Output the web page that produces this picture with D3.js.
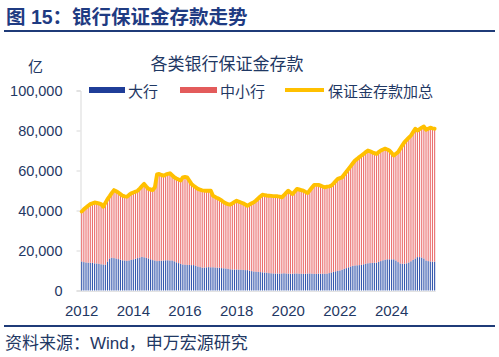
<!DOCTYPE html>
<html>
<head>
<meta charset="utf-8">
<script src="https://cdn.jsdelivr.net/npm/d3@7/dist/d3.min.js"></script>
<style>
  html, body { margin: 0; padding: 0; background: #fff; }
  svg { display: block; }
  text { font-family: "Liberation Sans", Arial, "Noto Sans CJK SC", sans-serif; }
</style>
</head>
<body>
<svg id="chart" width="499" height="357"></svg>
<script>
// ---- data (亿元), monthly Jan 2012 – Sep 2025 ----
const startMonth = new Date(2012, 0, 1);
const endMonth = new Date(2025, 9, 1); // exclusive
const months = d3.timeMonth.range(startMonth, endMonth);

// 大行
const bigBanks = [
  14.5, 14.2, 14.0, 13.9, 13.9, 13.8, 13.6, 13.5, 13.3, 13.1, 13.0, 12.8,
  14.5, 16.0, 16.4, 16.2, 16.0, 15.7, 15.4, 15.1, 15.0, 14.8, 15.0, 15.3,
  15.6, 15.9, 16.2, 16.5, 16.8, 16.6, 16.3, 16.0, 15.6, 15.2, 15.0, 14.7,
  14.8, 14.9, 15.0, 15.1, 15.1, 15.0, 15.0, 14.6, 14.1, 13.7, 13.3, 13.0,
  12.9, 12.8, 12.8, 12.7, 12.7, 12.3, 12.0, 11.7, 11.4, 11.5, 11.6, 11.7,
  11.6, 11.6, 11.5, 11.4, 11.4, 11.2, 11.1, 11.0, 10.8, 10.6, 10.5, 10.5,
  10.5, 10.4, 10.4, 10.3, 10.2, 10.2, 9.9, 9.7, 9.5, 9.4, 9.3, 9.2,
  9.1, 9.0, 8.9, 8.7, 8.6, 8.5, 8.5, 8.5, 8.4, 8.5, 8.6, 8.5,
  8.4, 8.4, 8.4, 8.5, 8.5, 8.4, 8.4, 8.3, 8.4, 8.5, 8.5, 8.4,
  8.3, 8.3, 8.4, 8.4, 8.4, 8.4, 8.4, 8.7, 9.0, 9.3, 9.6, 9.8,
  10.0, 10.4, 10.8, 11.2, 11.6, 12.0, 12.3, 12.5, 12.6, 12.7, 12.8, 13.1,
  13.4, 13.6, 13.7, 13.8, 13.9, 13.9, 14.3, 14.7, 15.1, 15.4, 15.6, 15.6,
  15.6, 15.6, 15.0, 14.2, 13.5, 13.4, 13.4, 13.6, 14.0, 14.6, 15.3, 16.0,
  16.7, 16.7, 16.5, 16.0, 15.0, 14.7, 14.5, 14.4, 14.4
].map(v => v * 1000);

// 保证金存款加总
const totalDeposits = [
  39.5, 40.6, 41.5, 42.4, 43.2, 43.6, 44.0, 43.8, 43.5, 43.2, 41.9, 43.8,
  45.7, 47.2, 48.8, 50.2, 49.6, 49.0, 48.2, 47.4, 47.1, 46.9, 47.8, 48.6,
  49.0, 49.4, 49.9, 51.0, 52.2, 53.3, 52.0, 50.8, 50.5, 50.2, 51.6, 58.0,
  58.3, 57.8, 57.4, 57.9, 58.3, 58.6, 57.6, 56.6, 56.0, 55.5, 55.0, 56.6,
  56.8, 56.6, 55.0, 53.3, 52.4, 51.6, 50.8, 50.4, 50.1, 49.9, 49.9, 49.9,
  49.9, 47.4, 46.8, 46.2, 45.7, 45.0, 44.2, 43.6, 43.2, 42.9, 43.6, 44.3,
  44.9, 44.4, 44.0, 43.6, 43.0, 42.4, 43.0, 43.6, 44.1, 45.0, 46.0, 47.0,
  47.9, 47.7, 47.5, 47.4, 47.3, 47.2, 47.2, 47.1, 46.9, 46.6, 47.6, 48.8,
  49.9, 49.0, 48.2, 49.5, 50.8, 50.5, 50.2, 49.9, 49.3, 48.7, 50.1, 51.5,
  52.8, 52.8, 52.8, 52.4, 52.0, 51.6, 51.9, 52.1, 52.4, 53.5, 54.7, 55.8,
  56.2, 56.6, 58.0, 59.4, 60.8, 62.2, 63.6, 65.0, 65.8, 66.7, 67.5, 68.3,
  69.2, 70.0, 69.6, 69.1, 68.7, 68.3, 69.2, 70.0, 70.5, 70.9, 70.5, 70.0,
  68.8, 67.5, 68.4, 69.2, 70.9, 72.6, 74.2, 75.3, 76.4, 77.5, 79.2, 80.9,
  80.0, 80.7, 81.4, 82.0, 80.4, 80.9, 81.4, 81.1, 80.9
].map(v => v * 1000);

const yTicks = [0, 20000, 40000, 60000, 80000, 100000];
const xTickYears = [2012, 2014, 2016, 2018, 2020, 2022, 2024];
const seriesNames = ["大行", "中小行", "保证金存款加总"];
const seriesColors = ["#1f3d98", "#e35b5b", "#ffc000"];
const barColors = ["#3557ad", "#ea7070"];

// table: 中小行 = 加总 − 大行
const table = months.map((m, i) => ({
  month: m,
  big: bigBanks[i],
  small: totalDeposits[i] - bigBanks[i],
  total: totalDeposits[i]
}));

// ---- layout ----
const svg = d3.select("#chart");
const textColor = "#1f3864";
const step = 2.152;
const xStart = 81.7 - step / 2;
const x = d3.scaleBand()
  .domain(months.map(d => +d))
  .range([xStart, xStart + step * months.length])
  .paddingInner(0.48)
  .paddingOuter(0.24);
const xc = d => x(+d) + x.bandwidth() / 2;
const y = d3.scaleLinear().domain([0, 100000]).range([290.5, 90.5]);

// header
svg.append("text")
  .attr("x", 6).attr("y", 24)
  .attr("font-size", 19.5).attr("font-weight", "bold")
  .attr("fill", "#1f3b82")
  .text("图 15：银行保证金存款走势");
svg.append("rect").attr("x", 4).attr("y", 30).attr("width", 491).attr("height", 2).attr("fill", "#1f3b78");

// chart title
svg.append("text")
  .attr("x", 227).attr("y", 64)
  .attr("text-anchor", "middle").attr("dominant-baseline", "central")
  .attr("font-size", 17).attr("fill", textColor)
  .text("各类银行保证金存款");

// unit
svg.append("text")
  .attr("x", 35.5).attr("y", 66)
  .attr("text-anchor", "middle").attr("dominant-baseline", "central")
  .attr("font-size", 15).attr("fill", textColor)
  .text("亿");

// y axis
const yAxis = svg.append("g").attr("transform", "translate(80.5,0)")
  .call(d3.axisLeft(y).tickValues(yTicks).tickSize(4).tickPadding(14)
    .tickFormat(d3.format(",")));
yAxis.select(".domain").attr("stroke", "#d9d9d9");
yAxis.selectAll(".tick line").attr("stroke", "#d9d9d9");
yAxis.selectAll(".tick text")
  .attr("font-size", 14.5).attr("fill", textColor)
  .attr("font-family", "'Liberation Sans', Arial, sans-serif");

// x axis baseline
svg.append("line")
  .attr("x1", 80.5).attr("x2", xStart + step * months.length)
  .attr("y1", y(0) + 1).attr("y2", y(0) + 1)
  .attr("stroke", "#e3e3e3").attr("stroke-width", 1);

// stacked bars
const stack = d3.stack().keys(["big", "small"]);
const stacked = stack(table);
svg.append("g").selectAll("g")
  .data(stacked)
  .join("g")
  .attr("fill", (d, i) => barColors[i])
  .selectAll("rect")
  .data(d => d)
  .join("rect")
  .attr("x", d => x(+d.data.month))
  .attr("width", x.bandwidth())
  .attr("y", d => y(d[1]))
  .attr("height", d => y(d[0]) - y(d[1]));

// total line
const line = d3.line().x(d => xc(d.month)).y(d => y(d.total));
svg.append("path")
  .datum(table)
  .attr("d", line)
  .attr("fill", "none")
  .attr("stroke", seriesColors[2])
  .attr("stroke-width", 3.9)
  .attr("stroke-linejoin", "round")
  .attr("stroke-linecap", "round");

// x tick labels
const xTickDates = xTickYears.map(yr => new Date(yr, 0, 1));
svg.append("g").selectAll("text")
  .data(xTickDates)
  .join("text")
  .attr("x", d => xc(d))
  .attr("y", 310.5)
  .attr("text-anchor", "middle").attr("dominant-baseline", "central")
  .attr("font-size", 15).attr("fill", textColor)
  .text(d => d.getFullYear());

// legend
const lg = svg.append("g");
const legendItems = [
  { x0: 89, x1: 125, tx: 128, type: "bar" },
  { x0: 180, x1: 217, tx: 220, type: "bar" },
  { x0: 285, x1: 324, tx: 328, type: "line" }
];
legendItems.forEach((it, i) => {
  if (it.type === "bar") {
    lg.append("rect").attr("x", it.x0).attr("y", 87).attr("width", it.x1 - it.x0).attr("height", 6)
      .attr("fill", seriesColors[i]);
  } else {
    lg.append("line").attr("x1", it.x0).attr("x2", it.x1).attr("y1", 90).attr("y2", 90)
      .attr("stroke", seriesColors[i]).attr("stroke-width", 4);
  }
  lg.append("text").attr("x", it.tx).attr("y", 91)
    .attr("dominant-baseline", "central")
    .attr("font-size", 15).attr("fill", textColor)
    .text(seriesNames[i]);
});

// footer
svg.append("rect").attr("x", 4).attr("y", 325).attr("width", 491).attr("height", 2).attr("fill", "#1f3b78");
svg.append("text")
  .attr("x", 5).attr("y", 343)
  .attr("dominant-baseline", "central")
  .attr("font-size", 17).attr("fill", textColor)
  .text("资料来源：Wind，申万宏源研究");
</script>
</body>
</html>
